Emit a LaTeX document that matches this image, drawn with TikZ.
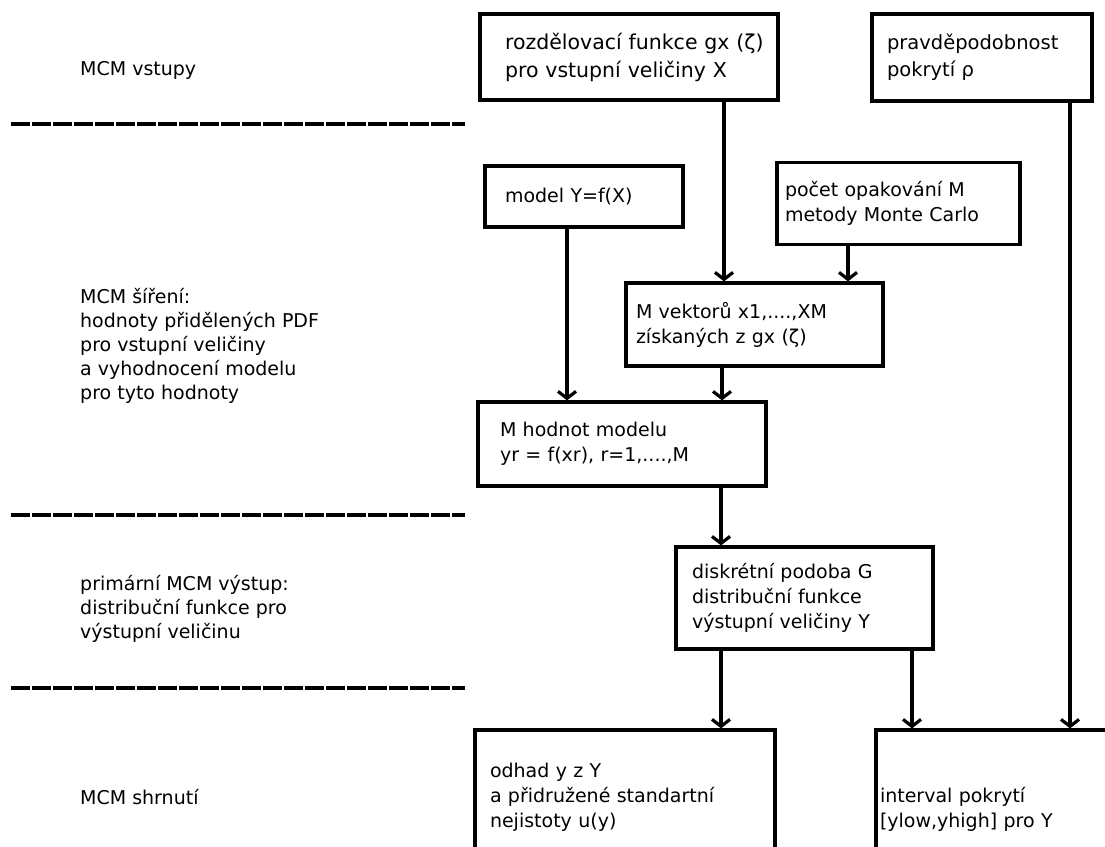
\documentclass[tikz,border=0pt]{standalone}
\usepackage{fontspec}
\setmainfont{DejaVu Sans}
\usetikzlibrary{arrows.meta}
\tikzset{
  box/.style={draw, line width=3.2pt, align=left, inner ysep=0pt, font=\fontsize{19}{25}\selectfont},
  lbl/.style={anchor=west, align=left, inner sep=0pt, font=\fontsize{19}{24}\selectfont},
  arr/.style={line width=3.2pt, -{Straight Barb[length=7pt,width=18pt,line width=3.2pt]}},
  sep/.style={line width=3.4pt, dash pattern=on 19pt off 2pt}
}
\begin{document}
\begin{tikzpicture}[x=1pt,y=-1pt]
\useasboundingbox (0,0) rectangle (1105,846);
% separators
\draw[sep] (11,124) -- (465,124);
\draw[sep] (11,515) -- (465,515);
\draw[sep] (11,688) -- (465,688);
% left labels
\node[lbl] (l1) at (80,70) {MCM vstupy};
\node[lbl] (l2) at (80,346) {MCM šíření:\\hodnoty přidělených PDF\\pro vstupní veličiny\\a vyhodnocení modelu\\pro tyto hodnoty};
\node[lbl] (l3) at (80,609) {primární MCM výstup:\\distribuční funkce pro\\výstupní veličinu};
\node[lbl] (l4) at (80,797) {MCM shrnutí};
% boxes
\node[box, inner xsep=25pt, text width=248pt, minimum height=86pt, font=\fontsize{20.5}{28}\selectfont] (g) at (629,57) {\mbox{rozdělovací funkce gx (ζ)}\\\mbox{pro vstupní veličiny X}};
\node[box, inner xsep=15pt, text width=190pt, minimum height=87pt, font=\fontsize{19.5}{27}\selectfont] (p) at (982,57.5) {pravděpodobnost\\pokrytí ρ};
\node[box, inner xsep=20pt, text width=158pt, minimum height=61pt] (m) at (584,196.5) {model Y=f(X)};
\node[box, inner xsep=8pt, text width=227pt, minimum height=82pt] (n) at (898.5,203.5) {počet opakování M\\metody Monte Carlo};
\node[box, inner xsep=10pt, text width=237pt, minimum height=83pt] (v) at (754.5,324.5) {M vektorů x1,....,XM\\získaných z gx (ζ)};
\node[box, inner xsep=22pt, text width=244pt, minimum height=84pt] (h) at (622,444) {M hodnot modelu\\yr = f(xr), r=1,....,M};
\node[box, inner xsep=16pt, text width=225pt, minimum height=102pt] (d) at (804.5,598) {diskrétní podoba G\\distribuční funkce\\výstupní veličiny Y};
\node[box, inner xsep=15pt, text width=270pt, minimum height=134pt] (o) at (625,797) {odhad y z Y\\\mbox{a přidružené standartní}\\nejistoty u(y)};
\node[box, inner xsep=4pt, text width=241pt, minimum height=158pt] (i) at (1000.5,809) {interval pokrytí\\{[}ylow,yhigh{]} pro Y};
% arrows
\draw[arr] ([xshift=95pt]g.south) -- ([xshift=-30.5pt]v.north);
\draw[arr] ([xshift=-50.5pt]n.south) -- ([xshift=93.5pt]v.north);
\draw[arr] ([xshift=-17pt]m.south) -- ([xshift=-55pt]h.north);
\draw[arr] ([xshift=-32.5pt]v.south) -- ([xshift=100pt]h.north);
\draw[arr] ([xshift=99pt]h.south) -- ([xshift=-83.5pt]d.north);
\draw[arr] ([xshift=-83.5pt]d.south) -- ([xshift=96pt]o.north);
\draw[arr] ([xshift=107.5pt]d.south) -- ([xshift=-88.5pt]i.north);
\draw[arr] ([xshift=88pt]p.south) -- ([xshift=69.5pt]i.north);
\end{tikzpicture}
\end{document}
